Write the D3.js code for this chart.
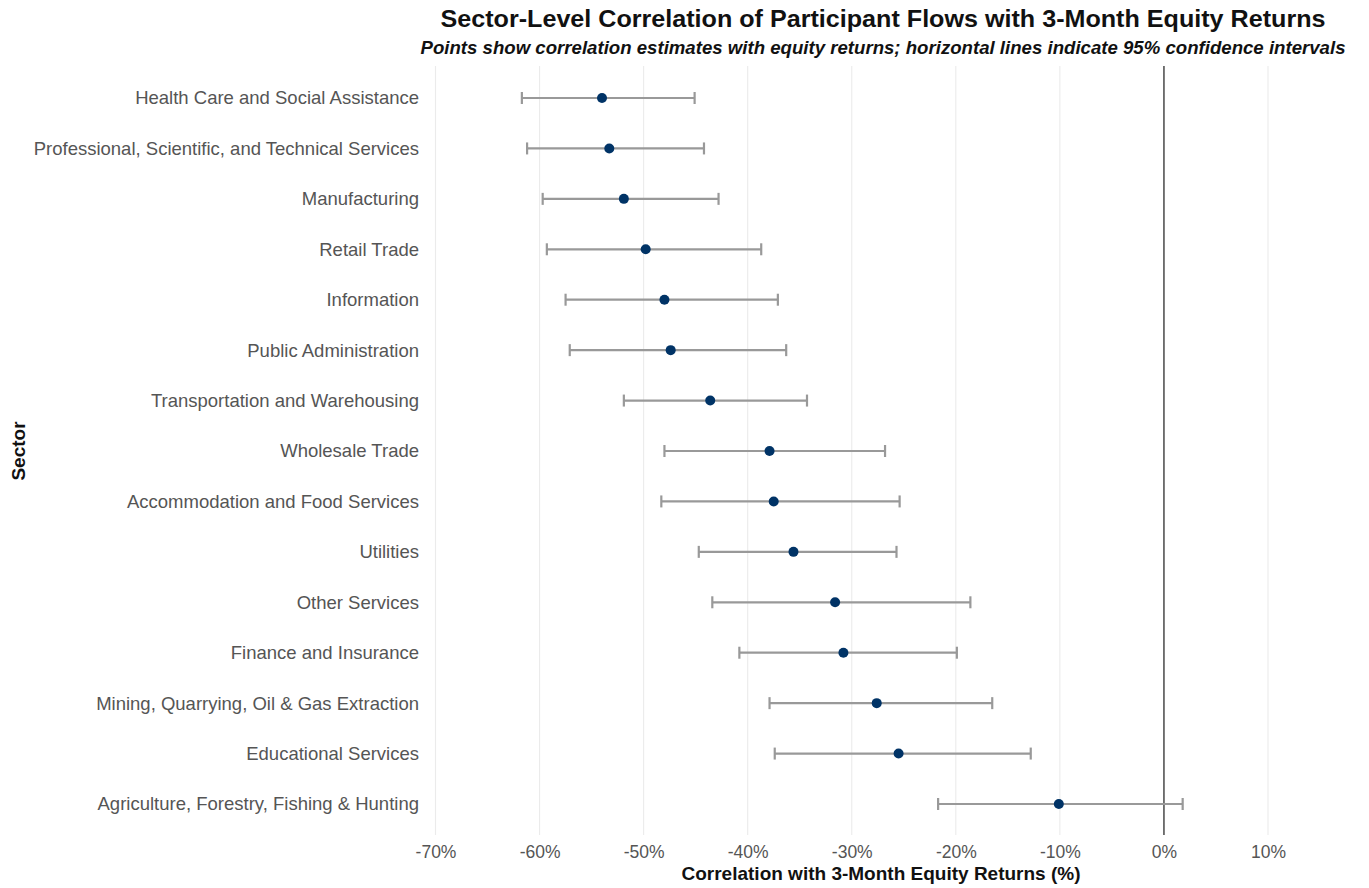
<!DOCTYPE html>
<html>
<head>
<meta charset="utf-8">
<script src="https://cdn.jsdelivr.net/npm/d3@7/dist/d3.min.js"></script>
<style>
  html, body { margin: 0; padding: 0; background: #ffffff; }
  svg { display: block; font-family: "Liberation Sans", Arial, sans-serif; }
</style>
</head>
<body>
<svg id="chart" width="1369" height="888"></svg>
<script>
// Sectors, top to bottom
const sectors = [
  "Health Care and Social Assistance",
  "Professional, Scientific, and Technical Services",
  "Manufacturing",
  "Retail Trade",
  "Information",
  "Public Administration",
  "Transportation and Warehousing",
  "Wholesale Trade",
  "Accommodation and Food Services",
  "Utilities",
  "Other Services",
  "Finance and Insurance",
  "Mining, Quarrying, Oil & Gas Extraction",
  "Educational Services",
  "Agriculture, Forestry, Fishing & Hunting"
];
// Correlation estimates (%)
const estimates = [-54.0, -53.3, -51.9, -49.8, -48.0, -47.4, -43.6, -37.9, -37.5, -35.6, -31.6, -30.8, -27.6, -25.5, -10.1];
// 95% confidence interval bounds (%)
const ciLow  = [-61.7, -61.2, -59.7, -59.3, -57.5, -57.1, -51.9, -48.0, -48.3, -44.7, -43.4, -40.8, -37.9, -37.4, -21.7];
const ciHigh = [-45.1, -44.2, -42.8, -38.7, -37.1, -36.3, -34.3, -26.8, -25.4, -25.7, -18.6, -19.9, -16.5, -12.8, 1.8];
// Axis ticks (%)
const xTicks = [-70, -60, -50, -40, -30, -20, -10, 0, 10];

const rows = sectors.map((s, i) => ({ sector: s, est: estimates[i], lo: ciLow[i], hi: ciHigh[i] }));

const svg = d3.select("#chart");
const panelTop = 66, panelBottom = 835;

const x = d3.scaleLinear().domain([-70, 10]).range([435.5, 1268]);
const y = d3.scalePoint().domain(sectors).range([98, 804]);

// vertical grid
svg.append("g").selectAll("line").data(xTicks).join("line")
  .attr("x1", d => x(d)).attr("x2", d => x(d))
  .attr("y1", panelTop).attr("y2", panelBottom)
  .attr("stroke", "#ebebeb").attr("stroke-width", 1.1);

// zero reference line
svg.append("line")
  .attr("x1", x(0)).attr("x2", x(0))
  .attr("y1", panelTop).attr("y2", panelBottom)
  .attr("stroke", "#555555").attr("stroke-width", 1.6);

// confidence intervals
const ci = svg.append("g").attr("stroke", "#999999").attr("stroke-width", 2.2).attr("fill", "none");
ci.selectAll("line.ci").data(rows).join("line").attr("class", "ci")
  .attr("x1", d => x(d.lo)).attr("x2", d => x(d.hi))
  .attr("y1", d => y(d.sector)).attr("y2", d => y(d.sector));
const capH = 6;
ci.selectAll("line.capl").data(rows).join("line").attr("class", "capl")
  .attr("x1", d => x(d.lo)).attr("x2", d => x(d.lo))
  .attr("y1", d => y(d.sector) - capH).attr("y2", d => y(d.sector) + capH);
ci.selectAll("line.caph").data(rows).join("line").attr("class", "caph")
  .attr("x1", d => x(d.hi)).attr("x2", d => x(d.hi))
  .attr("y1", d => y(d.sector) - capH).attr("y2", d => y(d.sector) + capH);

// point estimates
svg.append("g").selectAll("circle").data(rows).join("circle")
  .attr("cx", d => x(d.est)).attr("cy", d => y(d.sector))
  .attr("r", 5).attr("fill", "#003366");

// x axis tick labels
const xAxis = d3.axisBottom(x).tickValues(xTicks).tickFormat(d => d + "%").tickSize(0).tickPadding(0);
const gx = svg.append("g").attr("transform", "translate(0,846)").call(xAxis);
gx.select(".domain").remove();
gx.selectAll("text").attr("font-size", 17.5).attr("fill", "#555555")
  .attr("font-family", "Liberation Sans, Arial, sans-serif").attr("dy", "0.71em");

// y axis labels
const yAxis = d3.axisLeft(y).tickSize(0).tickPadding(0);
const gy = svg.append("g").attr("transform", "translate(419,0)").call(yAxis);
gy.select(".domain").remove();
gy.selectAll("text").attr("font-size", 18.5).attr("fill", "#555555")
  .attr("font-family", "Liberation Sans, Arial, sans-serif");

// titles
svg.append("text").attr("x", 883).attr("y", 27).attr("text-anchor", "middle")
  .attr("font-size", 24).attr("font-weight", "bold").attr("fill", "#111")
  .attr("textLength", 885).attr("lengthAdjust", "spacingAndGlyphs")
  .text("Sector-Level Correlation of Participant Flows with 3-Month Equity Returns");
svg.append("text").attr("x", 883).attr("y", 54).attr("text-anchor", "middle")
  .attr("font-size", 18).attr("font-weight", "bold").attr("font-style", "italic").attr("fill", "#111")
  .attr("textLength", 925).attr("lengthAdjust", "spacingAndGlyphs")
  .text("Points show correlation estimates with equity returns; horizontal lines indicate 95% confidence intervals");
svg.append("text").attr("x", 881).attr("y", 880).attr("text-anchor", "middle")
  .attr("font-size", 19).attr("font-weight", "bold").attr("fill", "#111")
  .text("Correlation with 3-Month Equity Returns (%)");
svg.append("text").attr("transform", "translate(25,451) rotate(-90)").attr("text-anchor", "middle")
  .attr("font-size", 19).attr("font-weight", "bold").attr("fill", "#111")
  .text("Sector");
</script>
</body>
</html>
